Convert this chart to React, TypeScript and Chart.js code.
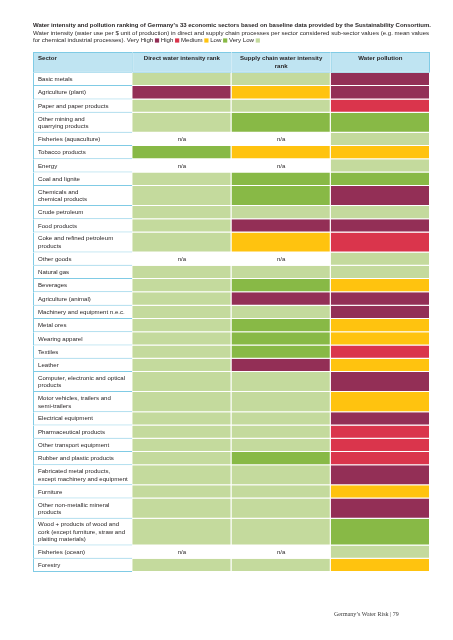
import React, { useEffect, useRef } from 'react';
import { Chart, registerables } from 'chart.js';

Chart.register(...registerables);

// ---------- data ----------
const TITLE =
  "Water intensity and pollution ranking of Germany's 33 economic sectors based on baseline data provided by the Sustainability Consortium.";
const SUBTITLE_1 =
  'Water intensity (water use per $ unit of production) in direct and supply chain processes per sector considered sub-sector values (e.g. mean values';
const SUBTITLE_2 = 'for chemical industrial processes).';
const FOOTER = "Germany\u2019s Water Risk | 79";

const COLUMN_KEYS = ['sector', 'direct', 'supply', 'pollution'];
const COLUMN_TITLES: string[][] = [
  ['Sector'],
  ['Direct water intensity rank'],
  ['Supply chain water intensity', 'rank'],
  ['Water pollution'],
];

const LEVELS = ['Very High', 'High', 'Medium', 'Low', 'Very Low'];
const LEVEL_CODES = ['VH', 'H', 'M', 'L', 'VL'];
const LEVEL_COLORS = ['#932f56', '#da354c', '#ffc30f', '#88b946', '#c4da9d'];

const SECTORS: string[][] = [
  ['Basic metals'],
  ['Agriculture (plant)'],
  ['Paper and paper products'],
  ['Other mining and', 'quarrying products'],
  ['Fisheries (aquaculture)'],
  ['Tobacco products'],
  ['Energy'],
  ['Coal and lignite'],
  ['Chemicals and', 'chemical products'],
  ['Crude petroleum'],
  ['Food products'],
  ['Coke and refined petroleum', 'products'],
  ['Other goods'],
  ['Natural gas'],
  ['Beverages'],
  ['Agriculture (animal)'],
  ['Machinery and equipment n.e.c.'],
  ['Metal ores'],
  ['Wearing apparel'],
  ['Textiles'],
  ['Leather'],
  ['Computer, electronic and optical', 'products'],
  ['Motor vehicles, trailers and', 'semi-trailers'],
  ['Electrical equipment'],
  ['Pharmaceutical products'],
  ['Other transport equipment'],
  ['Rubber and plastic products'],
  ['Fabricated metal products,', 'except machinery and equipment'],
  ['Furniture'],
  ['Other non-metallic mineral', 'products'],
  ['Wood + products of wood and', 'cork (except furniture, straw and', 'plaiting materials)'],
  ['Fisheries (ocean)'],
  ['Forestry'],
];

// null = n/a
const DIRECT: (string | null)[] = [
  'VL', 'VH', 'VL', 'VL', null, 'L', null, 'VL', 'VL', 'VL', 'VL',
  'VL', null, 'VL', 'VL', 'VL', 'VL', 'VL', 'VL', 'VL', 'VL', 'VL',
  'VL', 'VL', 'VL', 'VL', 'VL', 'VL', 'VL', 'VL', 'VL', null, 'VL',
];
const SUPPLY: (string | null)[] = [
  'VL', 'M', 'VL', 'L', null, 'M', null, 'L', 'L', 'VL', 'VH',
  'M', null, 'VL', 'L', 'VH', 'VL', 'L', 'L', 'L', 'VH', 'VL',
  'VL', 'VL', 'VL', 'VL', 'L', 'VL', 'VL', 'VL', 'VL', null, 'VL',
];
const POLLUTION: (string | null)[] = [
  'VH', 'VH', 'H', 'L', 'VL', 'M', 'VL', 'L', 'VH', 'VL', 'VH',
  'H', 'VL', 'VL', 'M', 'VH', 'VH', 'M', 'M', 'H', 'M', 'VH',
  'M', 'VH', 'H', 'H', 'H', 'VH', 'M', 'VH', 'L', 'VL', 'M',
];

// ---------- layout constants ----------
const FONT = '"Liberation Sans", Arial, Helvetica, sans-serif';
const SERIF = '"Liberation Serif", "DejaVu Serif", serif';
const HEADER_FILL = '#bfe4f2';
const GRID_LINE = '#80cbe5';
const TEXT = '#231f20';
const LINE_UNIT = 6.7;
const ROW_PAD = 6.5;
const HEADER_H = 20.7;
const LABEL_FONT = 6.1;
const LINE_GAP = 7.4;

const VALUE_COLUMNS = [DIRECT, SUPPLY, POLLUTION];

const rowStarts: number[] = [];
const rowHeights: number[] = [];
let acc = 0;
SECTORS.forEach((s) => {
  rowStarts.push(acc);
  const h = s.length * LINE_UNIT + ROW_PAD;
  rowHeights.push(h);
  acc += h;
});
const TOTAL = acc;

const tablePlugin = {
  id: 'tableText',
  afterDatasetsDraw(chart: any) {
    const { ctx, chartArea, scales } = chart;
    const xs = scales.x;
    const ys = scales.y;
    const band = xs.getPixelForValue(1) - xs.getPixelForValue(0);
    const colLeft = (c: number) => xs.getPixelForValue(c) - band / 2;
    const colCenter = (c: number) => xs.getPixelForValue(c);

    ctx.save();
    ctx.fillStyle = TEXT;
    ctx.textBaseline = 'middle';

    // title block
    const left = chartArea.left;
    const top = chartArea.top;
    ctx.textAlign = 'left';
    ctx.font = `bold 6.0px ${FONT}`;
    ctx.fillText(TITLE, left, top - 27);
    ctx.font = `6.1px ${FONT}`;
    ctx.fillText(SUBTITLE_1, left, top - 19);
    let cx = left;
    ctx.fillText(SUBTITLE_2 + ' ', cx, top - 11.5);
    cx += ctx.measureText(SUBTITLE_2 + ' ').width;
    const ds = chart.data.datasets;
    LEVELS.forEach((lv, i) => {
      ctx.fillStyle = TEXT;
      ctx.fillText(lv + ' ', cx, top - 11.5);
      cx += ctx.measureText(lv + ' ').width;
      const lvDs = ds.find((d: any) => d.label === lv);
      ctx.fillStyle = lvDs ? lvDs.backgroundColor : LEVEL_COLORS[i];
      ctx.fillRect(cx, top - 13.6, 4.2, 4.2);
      cx += 4.2 + ctx.measureText(' ').width;
    });

    // header
    ctx.fillStyle = TEXT;
    ctx.font = `bold ${LABEL_FONT}px ${FONT}`;
    COLUMN_TITLES.forEach((lines, c) => {
      lines.forEach((ln, k) => {
        const yy = ys.getPixelForValue(-HEADER_H) + 6.8 + k * LINE_GAP;
        if (c === 0) {
          ctx.textAlign = 'left';
          ctx.fillText(ln, colLeft(0) + 5, yy);
        } else {
          ctx.textAlign = 'center';
          ctx.fillText(ln, colCenter(c), yy);
        }
      });
    });

    // sector labels and n/a
    ctx.font = `${LABEL_FONT}px ${FONT}`;
    SECTORS.forEach((lines, i) => {
      const mid = ys.getPixelForValue(rowStarts[i] + rowHeights[i] / 2);
      ctx.textAlign = 'left';
      lines.forEach((ln, k) => {
        ctx.fillText(ln, colLeft(0) + 5, mid + (k - (lines.length - 1) / 2) * LINE_GAP);
      });
      VALUE_COLUMNS.forEach((vals, c) => {
        if (vals[i] === null) {
          ctx.textAlign = 'center';
          ctx.fillText('n/a', colCenter(c + 1), mid);
        }
      });
    });

    // footer
    ctx.textAlign = 'left';
    ctx.fillStyle = '#3a3a3a';
    ctx.font = `6.0px ${SERIF}`;
    ctx.fillText(FOOTER, 334, 614);
    ctx.restore();
  },
};

export default function App() {
  const ref = useRef<HTMLCanvasElement>(null);

  useEffect(() => {
    const common = {
      grouped: false,
      barPercentage: 1,
      categoryPercentage: 1,
      borderSkipped: false,
      inflateAmount: 0,
    };

    const headerDs = {
      ...common,
      label: 'header',
      data: COLUMN_KEYS.map((k) => ({ x: k, y: [-HEADER_H, 0] })),
      backgroundColor: HEADER_FILL,
      borderColor: GRID_LINE,
      borderWidth: (c: any) => ({ top: 1, left: 1, bottom: 1, right: c.dataIndex === 3 ? 1 : 0 }),
    };

    const sectorDs = {
      ...common,
      label: 'sector',
      data: SECTORS.map((_, i) => ({ x: 'sector', y: [rowStarts[i], rowStarts[i] + rowHeights[i]] })),
      backgroundColor: '#ffffff',
      borderColor: GRID_LINE,
      borderWidth: { left: 1, bottom: 1, top: 0, right: 0 },
    };

    const levelDs = LEVELS.map((lv, li) => {
      const code = LEVEL_CODES[li];
      const data: any[] = [];
      VALUE_COLUMNS.forEach((vals, c) => {
        vals.forEach((v, i) => {
          if (v === code) {
            data.push({ x: COLUMN_KEYS[c + 1], y: [rowStarts[i], rowStarts[i] + rowHeights[i]] });
          }
        });
      });
      return {
        ...common,
        label: lv,
        data,
        backgroundColor: LEVEL_COLORS[li],
        borderColor: '#ffffff',
        borderWidth: { right: 1, bottom: 1, top: 0, left: 0 },
      };
    });

    const chart = new Chart(ref.current as HTMLCanvasElement, {
      type: 'bar',
      data: {
        labels: COLUMN_KEYS,
        datasets: [headerDs, sectorDs, ...levelDs] as any,
      },
      options: {
        animation: false,
        responsive: false,
        maintainAspectRatio: false,
        devicePixelRatio: 1,
        events: [],
        layout: { padding: { left: 33, right: 23, top: 52, bottom: 68 } },
        plugins: {
          legend: { display: false },
          tooltip: { enabled: false },
          title: { display: false },
        },
        scales: {
          x: { type: 'category', display: false, offset: true, grid: { display: false } },
          y: { type: 'linear', display: false, reverse: true, min: -HEADER_H, max: TOTAL },
        },
      } as any,
      plugins: [tablePlugin],
    });
    return () => chart.destroy();
  }, []);

  return (
    <div style={{ position: 'absolute', left: 0, top: 0, width: 453, height: 640, background: '#fff' }}>
      <canvas ref={ref} width={453} height={640} style={{ display: 'block', width: 453, height: 640 }} />
    </div>
  );
}
